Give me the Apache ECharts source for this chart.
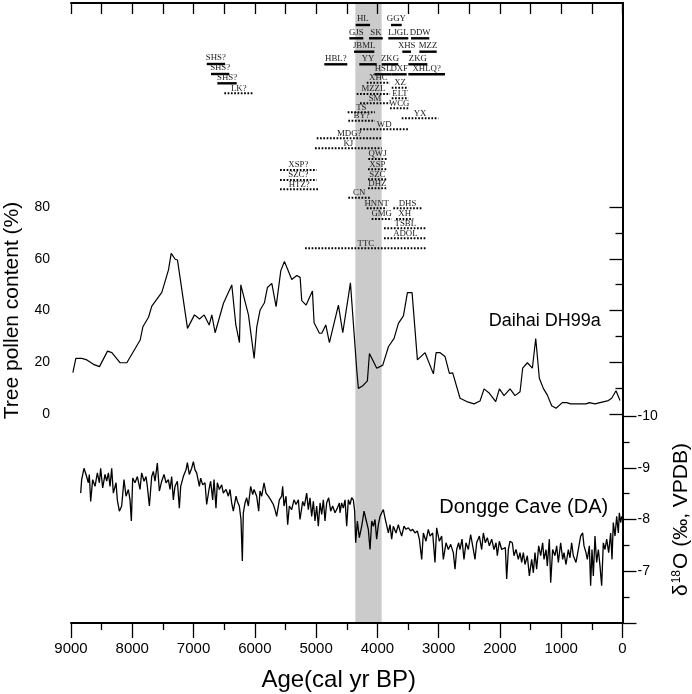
<!DOCTYPE html>
<html>
<head>
<meta charset="utf-8">
<script src="https://cdn.jsdelivr.net/npm/echarts@6/dist/echarts.min.js"></script>
<style>
html, body { margin: 0; padding: 0; background: #fff; }
#main { width: 692px; height: 694px; }
</style>
</head>
<body>
<div id="main"></div>
<script>
// Daihai DH99a tree pollen (%), age in cal yr BP
var pollenAge = [8969, 8921, 8823, 8741, 8633, 8535, 8513, 8404, 8333, 8197, 8089, 7871, 7827, 7735, 7681, 7518, 7409, 7365, 7300, 7262,
  7099, 6985, 6903, 6827, 6745, 6702, 6648, 6512, 6376, 6310, 6251, 6229, 6104, 6011, 5968, 5914, 5843, 5794, 5723, 5653,
  5576, 5517, 5397, 5315, 5261, 5234, 5163, 5060, 5033, 4946, 4908, 4842, 4783, 4636, 4565, 4440, 4337, 4310, 4244, 4163,
  4130, 4010, 3912, 3820, 3728, 3657, 3575, 3510, 3434, 3347, 3222, 3086, 3042, 2977, 2896, 2825, 2771, 2651, 2542, 2423,
  2325, 2259, 2172, 2069, 2009, 1933, 1835, 1754, 1672, 1629, 1552, 1471, 1416, 1357, 1292, 1226, 1156, 1085, 982, 911,
  846, 721, 595, 541, 449, 367, 231, 177, 106, 41];
var pollenValue = [16.0, 21.5, 21.5, 20.9, 19.2, 18.3, 18.3, 24.3, 23.7, 19.8, 19.8, 28.6, 33.7, 37.4, 41.7, 47.0, 55.7, 62.1, 59.8, 59.5,
  33.1, 38.3, 36.7, 38.3, 34.4, 38.3, 31.4, 42.8, 49.9, 34.4, 27.6, 49.9, 38.3, 21.5, 33.7, 40.2, 43.0, 48.9, 50.5, 41.5,
  55.4, 58.9, 52.0, 53.5, 52.8, 43.8, 42.1, 47.5, 35.3, 31.2, 31.2, 34.4, 27.6, 42.1, 31.4, 50.7, 17.0, 9.9, 10.8, 12.8,
  23.4, 17.7, 18.9, 26.0, 29.2, 35.0, 37.9, 46.9, 46.9, 20.9, 23.7, 15.5, 23.7, 23.7, 22.2, 15.7, 15.9, 6.1, 4.8, 3.9,
  5.0, 9.7, 8.0, 4.8, 9.7, 7.1, 9.7, 7.1, 8.6, 17.7, 19.8, 17.7, 29.2, 13.8, 9.9, 7.3, 3.2, 2.2, 4.4, 4.4,
  3.9, 3.9, 3.9, 4.4, 3.9, 4.4, 5.2, 6.1, 9.0, 5.2];

// Dongge Cave (DA) d18O (permil, VPDB)
var donggeAge = [8842, 8826, 8788, 8755, 8717, 8701, 8679, 8646, 8608, 8570, 8537, 8516, 8483, 8445, 8418, 8390, 8363, 8336, 8309, 8265,
  8244, 8211, 8173, 8135, 8102, 8064, 8037, 8015, 7993, 7955, 7917, 7874, 7847, 7808, 7776, 7754, 7721, 7683, 7656, 7629,
  7591, 7558, 7520, 7482, 7449, 7411, 7384, 7357, 7330, 7303, 7264, 7232, 7210, 7167, 7123, 7101, 7069, 7031, 7003, 6976,
  6949, 6905, 6884, 6851, 6813, 6786, 6748, 6721, 6688, 6666, 6634, 6612, 6579, 6541, 6514, 6470, 6432, 6405, 6378, 6351,
  6307, 6285, 6253, 6226, 6204, 6188, 6160, 6133, 6106, 6068, 6035, 6013, 5970, 5937, 5916, 5888, 5850, 5818, 5780, 5741,
  5698, 5671, 5644, 5600, 5562, 5546, 5524, 5491, 5464, 5437, 5399, 5361, 5328, 5290, 5263, 5219, 5192, 5154, 5127, 5100,
  5072, 5045, 5018, 4991, 4964, 4936, 4909, 4882, 4855, 4828, 4795, 4762, 4730, 4692, 4653, 4621, 4610, 4583, 4556, 4528,
  4501, 4474, 4447, 4420, 4392, 4371, 4354, 4327, 4295, 4256, 4218, 4186, 4148, 4120, 4093, 4066, 4039, 4012, 3984, 3957,
  3930, 3903, 3876, 3848, 3821, 3794, 3767, 3740, 3696, 3658, 3631, 3604, 3566, 3533, 3495, 3457, 3424, 3386, 3348, 3315,
  3277, 3250, 3207, 3169, 3141, 3098, 3060, 3033, 2989, 2951, 2924, 2880, 2842, 2804, 2761, 2733, 2706, 2674, 2652, 2619,
  2587, 2554, 2516, 2478, 2445, 2407, 2380, 2336, 2298, 2271, 2238, 2206, 2173, 2135, 2097, 2064, 2043, 2010, 1972, 1945,
  1912, 1890, 1863, 1836, 1798, 1771, 1738, 1700, 1673, 1645, 1618, 1591, 1553, 1520, 1482, 1455, 1428, 1401, 1368, 1335,
  1303, 1281, 1248, 1227, 1194, 1172, 1140, 1102, 1074, 1047, 1009, 976, 955, 922, 884, 857, 830, 802, 759, 721,
  683, 650, 628, 596, 574, 541, 520, 498, 476, 449, 422, 394, 367, 340, 313, 286, 258, 226, 193, 171,
  150, 122, 95, 68, 52, 30, 13];
var donggeD18O = [-8.51, -8.77, -8.99, -8.87, -8.71, -8.87, -8.35, -8.77, -8.64, -8.90, -8.71, -8.99, -8.61, -8.87, -8.74, -8.90, -8.64, -8.99, -8.51, -8.71,
  -8.38, -8.16, -8.26, -8.77, -8.45, -8.58, -8.38, -7.97, -8.80, -8.71, -8.83, -8.58, -8.90, -8.74, -8.83, -8.64, -8.26, -8.83, -8.93, -8.74,
  -9.09, -8.55, -8.74, -8.87, -8.71, -8.77, -8.58, -8.83, -8.38, -8.64, -8.74, -8.22, -8.64, -8.83, -8.96, -9.10, -8.87, -8.99, -9.12, -8.96,
  -8.90, -8.64, -8.80, -8.67, -8.71, -8.29, -8.58, -8.74, -8.38, -8.77, -8.22, -8.71, -8.58, -8.67, -8.51, -8.58, -8.45, -8.58, -8.32, -8.16,
  -8.45, -8.35, -8.26, -8.00, -7.20, -8.13, -8.32, -8.42, -8.26, -8.64, -8.48, -8.58, -8.45, -8.16, -8.55, -8.45, -8.71, -8.51, -8.45, -8.38,
  -8.29, -8.19, -8.06, -8.38, -8.45, -8.64, -8.26, -8.45, -7.90, -8.26, -8.19, -8.38, -8.29, -8.38, -8.00, -8.35, -8.26, -8.51, -8.19, -8.42,
  -8.06, -8.35, -7.97, -8.26, -7.87, -8.32, -8.10, -8.38, -7.97, -8.32, -8.42, -8.16, -8.26, -8.13, -8.22, -8.32, -8.13, -8.32, -8.22, -8.38,
  -7.87, -8.38, -8.29, -8.42, -8.38, -8.16, -7.55, -7.97, -7.65, -7.87, -8.16, -8.00, -7.81, -7.42, -7.97, -7.87, -8.00, -7.62, -7.90, -8.06,
  -8.13, -8.19, -8.03, -8.00, -7.74, -7.90, -7.62, -7.87, -7.74, -7.90, -7.78, -7.68, -7.87, -7.81, -7.84, -7.78, -7.81, -7.74, -7.78, -7.62,
  -7.23, -7.74, -7.58, -7.81, -7.68, -7.74, -7.17, -7.84, -7.58, -7.68, -7.23, -7.55, -7.42, -7.52, -7.36, -7.04, -7.42, -7.55, -7.42, -7.62,
  -7.23, -7.55, -7.42, -7.71, -7.49, -7.23, -7.55, -7.68, -7.42, -7.74, -7.55, -7.65, -7.49, -7.62, -7.42, -7.55, -7.30, -7.58, -7.42, -7.39,
  -7.46, -6.85, -7.42, -7.58, -7.55, -7.30, -7.42, -7.23, -7.36, -7.17, -7.36, -7.13, -7.30, -6.91, -7.23, -6.97, -7.36, -7.04, -7.49, -7.30,
  -7.55, -7.23, -7.42, -7.10, -7.62, -6.78, -7.42, -7.30, -7.49, -7.17, -7.55, -7.23, -7.36, -7.13, -7.42, -7.26, -7.55, -7.30, -7.17, -7.42,
  -7.68, -7.74, -7.49, -7.36, -7.23, -7.49, -6.72, -7.42, -6.91, -7.68, -7.17, -7.42, -7.10, -6.72, -7.55, -7.42, -7.62, -7.36, -7.74, -7.23,
  -7.94, -7.68, -8.06, -7.74, -8.13, -7.94, -8.06];

// shaded interval (cal yr BP)
var bandStart = 4360;
var bandEnd = 3930;

// site records: [name, older age, younger age, track (plot row, from top), 1 = solid / 0 = dotted]
var siteEvents = [
  ['HL', 4354, 4120, 25, 1], ['GGY', 3778, 3603, 25, 1],
  ['GJS', 4458, 4230, 38.3, 1], ['SK', 4137, 3913, 38.3, 1], ['LJGL', 3822, 3495, 38.3, 1], ['DDW', 3451, 3153, 38.3, 1],
  ['JBML', 4381, 4050, 51.7, 1], ['XHS', 3593, 3451, 51.7, 1], ['MZZ', 3316, 3032, 51.7, 1],
  ['HBL?', 4866, 4491, 64.3, 1], ['YY', 4295, 4011, 64.3, 1], ['ZKG', 3930, 3659, 64.3, 1], ['ZKG', 3495, 3185, 64.3, 1],
  ['SHS?', 6785, 6487, 64, 1], ['SHS?', 6715, 6417, 74, 1], ['SHS?', 6612, 6296, 83.3, 1],
  ['HSL', 4050, 3766, 74.3, 1], ['DXF', 3766, 3522, 74.3, 1], ['XHLQ?', 3495, 2897, 74.3, 1],
  ['LK?', 6498, 6025, 93.3, 0], ['XHC', 4174, 3794, 82.7, 0], ['XZ', 3766, 3495, 87.7, 0],
  ['MZZL', 4337, 3794, 94, 0], ['ELT', 3766, 3495, 98.3, 0], ['SM', 4284, 3794, 103.3, 0],
  ['WCG', 3794, 3495, 108.3, 0], ['TS', 4484, 4039, 112.3, 0], ['BY?', 4475, 4039, 120.7, 0],
  ['YX', 3603, 3006, 118.3, 0], ['WD', 4284, 3495, 129.3, 0], ['MDG?', 4990, 3929, 138.3, 0],
  ['KJ', 5018, 3929, 148.3, 0], ['QWJ', 4148, 3848, 159, 0], ['XSP?', 5589, 4990, 170, 0],
  ['XSP', 4153, 3848, 169.3, 0], ['SZC?', 5589, 4990, 180, 0], ['SZC', 4153, 3848, 179.3, 0],
  ['HTZ?', 5589, 4964, 189.3, 0], ['DHZ', 4153, 3848, 188.3, 0], ['CN', 4475, 4120, 197.7, 0],
  ['HNNT', 4174, 3848, 208.3, 0], ['DHS', 3740, 3277, 208.3, 0], ['GMG', 4093, 3766, 219, 0],
  ['XH', 3696, 3414, 219, 0], ['TSBL', 3892, 3195, 228.3, 0], ['ADOL', 3892, 3195, 238.3, 0],
  ['TTC', 5181, 3195, 248.3, 0]
];

// curve captions: [text, age, value]
var pollenCaption = ['Daihai DH99a', 1270, 36.1];
var donggeCaption = ['Dongge Cave (DA)', 1612, -8.23];

var sans = 'Liberation Sans, Arial, sans-serif';
var ink = '#000';

function zip(a, b) {
  return a.map(function (v, i) { return [v, b[i]]; });
}

function renderEvent(params, api) {
  var a = api.coord([api.value(0), api.value(2)]);
  var b = api.coord([api.value(1), api.value(2)]);
  var solid = api.value(3) === 1;
  return {
    type: 'group',
    children: [
      {
        type: 'line',
        shape: { x1: a[0], y1: a[1], x2: b[0], y2: b[1] },
        style: { stroke: '#000', lineWidth: solid ? 2.4 : 2, lineDash: solid ? null : [1.7, 1.6] }
      },
      {
        type: 'text',
        x: (a[0] + b[0]) / 2,
        y: a[1] - (solid ? 1.6 : 0.6),
        style: {
          text: siteEvents[params.dataIndex][0],
          fill: '#1a1a1a',
          fontSize: 8.8,
          fontFamily: 'Liberation Serif, Times New Roman, serif',
          align: 'center',
          verticalAlign: 'bottom'
        }
      }
    ]
  };
}

function captionSeries(cap, axisIdx, size) {
  return {
    type: 'scatter', xAxisIndex: axisIdx, yAxisIndex: axisIdx, z: 5, silent: true,
    symbolSize: 1, itemStyle: { color: 'rgba(0,0,0,0)', opacity: 1 },
    data: [[cap[1], cap[2]]],
    label: {
      show: true, position: 'inside', formatter: cap[0], opacity: 1,
      fontSize: size, color: ink, fontFamily: sans
    }
  };
}

var chart = echarts.init(document.getElementById('main'), null, { renderer: 'canvas' });

var hiddenX = { type: 'value', min: 0, max: 9000, inverse: true, show: false };
var tickLine = { color: '#000', width: 1.3 };

var option = {
  animation: false,
  backgroundColor: '#fff',
  textStyle: { fontFamily: sans, color: ink },
  grid: [
    { left: 71, right: 69.5, top: 3, bottom: 71, outerBoundsMode: 'none' },
    { left: 71, right: 69.5, top: 207, height: 207, outerBoundsMode: 'none' },
    { left: 71, right: 69.5, top: 416, bottom: 71, outerBoundsMode: 'none' }
  ],
  xAxis: [
    {
      type: 'value', gridIndex: 0, position: 'bottom', min: 0, max: 9000, interval: 1000, inverse: true, z: 6,
      name: 'Age(cal yr BP)', nameLocation: 'middle', nameGap: 45,
      nameTextStyle: { fontSize: 24, color: ink, fontFamily: sans, padding: [0, 16, 0, 0] },
      axisLine: { show: true, lineStyle: { color: '#000', width: 2 } },
      axisTick: { show: true, length: 15, lineStyle: tickLine },
      minorTick: { show: true, splitNumber: 2, length: 7, lineStyle: tickLine },
      axisLabel: { fontSize: 15, color: ink, margin: 18, formatter: function (v) { return String(v); } },
      splitLine: { show: false }
    },
    {
      type: 'value', gridIndex: 0, position: 'top', min: 0, max: 9000, interval: 500, inverse: true, z: 6,
      axisLine: { show: true, lineStyle: { color: '#000', width: 2 } },
      axisTick: { show: true, inside: true, length: 11, lineStyle: tickLine },
      axisLabel: { show: false },
      splitLine: { show: false }
    },
    Object.assign({ gridIndex: 1 }, hiddenX),
    Object.assign({ gridIndex: 2 }, hiddenX)
  ],
  yAxis: [
    {
      type: 'value', gridIndex: 0, position: 'left', min: 3, max: 623, inverse: true, z: 6,
      axisLine: { show: true, lineStyle: { color: '#000', width: 2 } },
      axisTick: { show: false }, axisLabel: { show: false }, splitLine: { show: false }
    },
    {
      type: 'value', gridIndex: 0, position: 'right', min: 0, max: 1, z: 6,
      axisLine: { show: true, lineStyle: { color: '#000', width: 2 } },
      axisTick: { show: false }, axisLabel: { show: false }, splitLine: { show: false }
    },
    {
      type: 'value', gridIndex: 1, position: 'left', min: 0, max: 80, interval: 20, z: 6,
      name: 'Tree pollen content (%)', nameLocation: 'middle', nameGap: 48,
      nameTextStyle: { fontSize: 21, color: ink, fontFamily: sans },
      axisLine: { show: false },
      axisTick: { show: true, length: 13, lineStyle: tickLine },
      minorTick: { show: true, splitNumber: 2, length: 7, lineStyle: tickLine },
      axisLabel: { fontSize: 14, color: ink, margin: 21 },
      splitLine: { show: false }
    },
    {
      type: 'value', gridIndex: 2, position: 'right', min: -10, max: -6, interval: 1, inverse: true, z: 6,
      name: '{d|δ}{sup|18}{d|O (‰, VPDB)}', nameLocation: 'middle', nameGap: 48,
      nameTextStyle: {
        color: ink, fontFamily: sans,
        rich: {
          d: { fontSize: 21, color: ink, fontFamily: sans },
          sup: { fontSize: 12, color: ink, fontFamily: sans, padding: [0, 1, 10, 1] }
        }
      },
      axisLine: { show: false },
      axisTick: { show: true, length: 14, lineStyle: tickLine },
      minorTick: { show: true, splitNumber: 2, length: 7, lineStyle: tickLine },
      axisLabel: { fontSize: 14, color: ink, margin: 15, formatter: function (v) { return v === -6 ? '' : String(v); } },
      splitLine: { show: false }
    }
  ],
  series: [
    {
      type: 'line', xAxisIndex: 0, yAxisIndex: 0, z: 1, silent: true,
      data: [[bandStart, 3], [bandEnd, 3]], symbol: 'none', lineStyle: { opacity: 0 },
      markArea: {
        silent: true,
        itemStyle: { color: '#cbcbcb' },
        data: [[{ xAxis: bandStart }, { xAxis: bandEnd }]]
      }
    },
    {
      type: 'custom', xAxisIndex: 0, yAxisIndex: 0, z: 4, silent: true,
      renderItem: renderEvent,
      encode: { x: [0, 1], y: 2 },
      data: siteEvents.map(function (e) { return [e[1], e[2], e[3], e[4]]; })
    },
    {
      type: 'line', xAxisIndex: 2, yAxisIndex: 2, z: 3, silent: true,
      data: zip(pollenAge, pollenValue), symbol: 'none',
      lineStyle: { color: '#000', width: 1.2 }
    },
    {
      type: 'line', xAxisIndex: 3, yAxisIndex: 3, z: 3, silent: true,
      data: zip(donggeAge, donggeD18O), symbol: 'none',
      lineStyle: { color: '#000', width: 1.3 }
    },
    captionSeries(pollenCaption, 2, 18),
    captionSeries(donggeCaption, 3, 20)
  ]
};

chart.setOption(option);
</script>
</body>
</html>
